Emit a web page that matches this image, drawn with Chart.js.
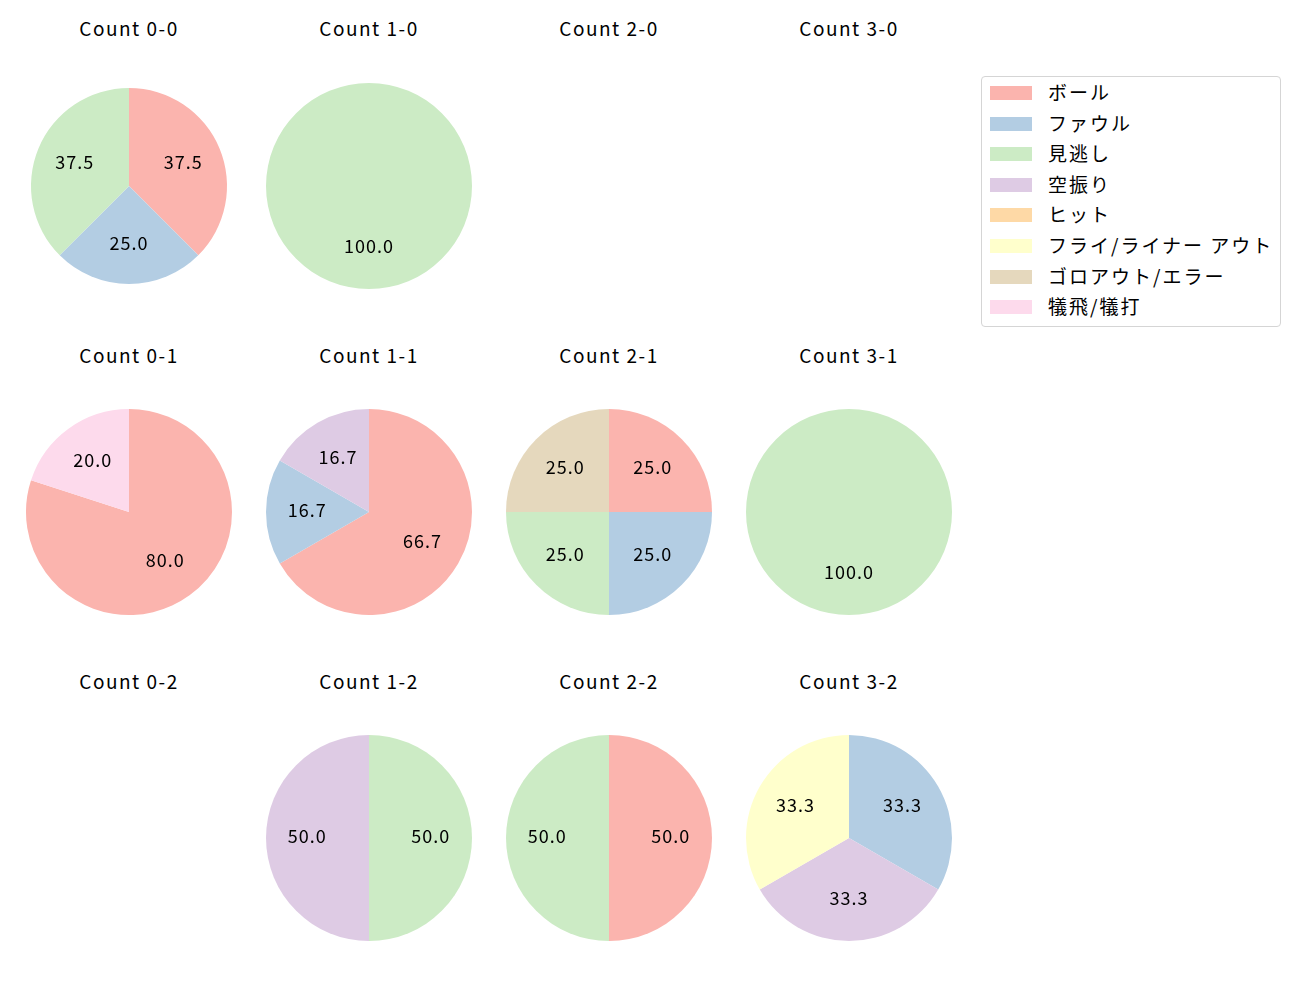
<!DOCTYPE html>
<html>
<head>
<meta charset="utf-8">
<script src="https://cdn.jsdelivr.net/npm/chart.js@4/dist/chart.umd.min.js"></script>
<style>
    body { margin: 0; background: #fff; font-family: "Noto Sans CJK JP", "Noto Sans", sans-serif; }
    #wrap { position: relative; width: 1300px; height: 1000px; }
    .title { position: absolute; width: 240px; text-align: center; font-size: 19px; letter-spacing: 1.5px; color: #000; line-height: 24px; }
    canvas.pie { position: absolute; }
    #legend { position: absolute; left: 981px; top: 76px; width: 298px; height: 249px; border: 1px solid #d5d5d5; border-radius: 4px; }
    .item { position: absolute; left: 8px; height: 24px; font-size: 19px; line-height: 24px; letter-spacing: 2px; }
    .swatch { position: absolute; left: 0; top: 5px; width: 42px; height: 14px; }
    .label { position: absolute; left: 58px; top: -1px; white-space: nowrap; }
</style>
</head>
<body>
<div id="wrap">
    <div id="legend"></div>
</div>
<script>
// Data
const categories = ['ボール', 'ファウル', '見逃し', '空振り', 'ヒット', 'フライ/ライナー アウト', 'ゴロアウト/エラー', '犠飛/犠打'];
const colors = ['#fbb4ae', '#b3cde3', '#ccebc5', '#decbe4', '#fed9a6', '#ffffcc', '#e5d8bd', '#fddaec'];

const countTitles = [
    'Count 0-0', 'Count 1-0', 'Count 2-0', 'Count 3-0',
    'Count 0-1', 'Count 1-1', 'Count 2-1', 'Count 3-1',
    'Count 0-2', 'Count 1-2', 'Count 2-2', 'Count 3-2'
];

// values per category, same order as categories
const count00 = [3, 2, 3, 0, 0, 0, 0, 0];
const count10 = [0, 0, 1, 0, 0, 0, 0, 0];
const count20 = [];
const count30 = [];
const count01 = [4, 0, 0, 0, 0, 0, 0, 1];
const count11 = [4, 1, 0, 1, 0, 0, 0, 0];
const count21 = [1, 1, 1, 0, 0, 0, 1, 0];
const count31 = [0, 0, 1, 0, 0, 0, 0, 0];
const count02 = [];
const count12 = [0, 0, 1, 1, 0, 0, 0, 0];
const count22 = [1, 0, 1, 0, 0, 0, 0, 0];
const count32 = [0, 1, 0, 1, 0, 1, 0, 0];

const countValues = [count00, count10, count20, count30, count01, count11, count21, count31, count02, count12, count22, count32];

// Layout
const colCenters = [129, 369, 609, 849];
const rowCenters = [186, 512, 838];
const titleY = [28, 355, 681];
const radii = [98, 103, 103, 103, 103, 103, 103, 103, 103, 103, 103, 103];

// Percentage labels at 0.6 of the radius
const pctLabels = {
    id: 'pctLabels',
    afterDatasetsDraw(chart) {
        const ctx = chart.ctx;
        const meta = chart.getDatasetMeta(0);
        const data = chart.data.datasets[0].data;
        const total = data.reduce((a, b) => a + b, 0);
        ctx.save();
        ctx.font = '18px "Noto Sans CJK JP", "Noto Sans", sans-serif';
        ctx.letterSpacing = '1px';
        ctx.fillStyle = '#000';
        ctx.textAlign = 'center';
        ctx.textBaseline = 'middle';
        meta.data.forEach((arc, i) => {
            if (!data[i]) return;
            const p = arc.getProps(['x', 'y', 'startAngle', 'endAngle', 'outerRadius'], true);
            const mid = (p.startAngle + p.endAngle) / 2;
            const r = p.outerRadius * 0.6;
            // small upward nudge so the glyphs sit where matplotlib puts them
            ctx.fillText((data[i] / total * 100).toFixed(1), p.x + Math.cos(mid) * r, p.y + Math.sin(mid) * r - 1.5);
        });
        ctx.restore();
    }
};

const wrap = document.getElementById('wrap');

countTitles.forEach((title, k) => {
    const col = k % 4;
    const row = Math.floor(k / 4);
    const cx = colCenters[col];
    const cy = rowCenters[row];

    const t = document.createElement('div');
    t.className = 'title';
    t.style.left = (cx - 120) + 'px';
    t.style.top = (titleY[row] - 12) + 'px';
    t.textContent = title;
    wrap.appendChild(t);

    const values = countValues[k];
    if (!values.length) return;

    const canvas = document.createElement('canvas');
    canvas.className = 'pie';
    canvas.width = 240;
    canvas.height = 240;
    canvas.style.left = (cx - 120) + 'px';
    canvas.style.top = (cy - 120) + 'px';
    wrap.appendChild(canvas);

    new Chart(canvas.getContext('2d'), {
        type: 'pie',
        data: {
            labels: categories,
            datasets: [{
                data: values,
                backgroundColor: colors,
                borderWidth: 0
            }]
        },
        options: {
            responsive: false,
            animation: false,
            radius: radii[k],
            layout: { padding: 0 },
            plugins: {
                legend: { display: false },
                tooltip: { enabled: false }
            }
        },
        plugins: [pctLabels]
    });
});

// Legend
const legend = document.getElementById('legend');
categories.forEach((name, i) => {
    const item = document.createElement('div');
    item.className = 'item';
    item.style.top = (4 + i * 30.6) + 'px';
    item.innerHTML = `<span class="swatch" style="background:${colors[i]}"></span><span class="label">${name}</span>`;
    legend.appendChild(item);
});
</script>
</body>
</html>
